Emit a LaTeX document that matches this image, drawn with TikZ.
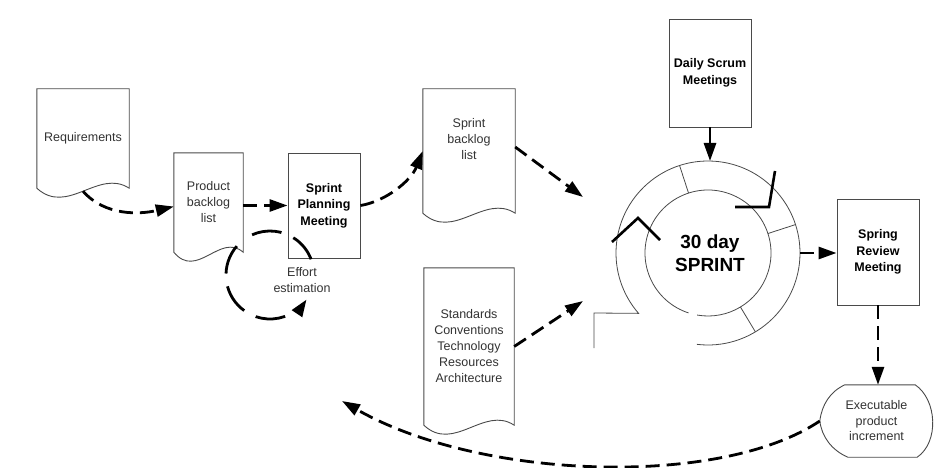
\documentclass[tikz,border=0pt]{standalone}
\usepackage{fontspec}
\setmainfont{Liberation Sans}
\usetikzlibrary{arrows.meta,calc}

\definecolor{edgegray}{HTML}{4A4A4A}
\definecolor{txtgray}{HTML}{333333}
\definecolor{ringgray}{HTML}{4A4A4A}

\tikzset{
  every node/.style={inner sep=0pt, align=center, text=txtgray,
    font=\fontsize{12.5}{16}\selectfont},
  docshape/.style={draw=none},
  docline/.style={draw=edgegray, line width=0.9pt, line join=miter},
  procbox/.style={draw=edgegray, line width=0.9pt},
  boldtext/.style={text=black, font=\bfseries\fontsize{12.5}{16.5}\selectfont},
  wavy/.style={to path={.. controls ($(\tikztostart)!1/3!(\tikztotarget)+(0,28)$)
      and ($(\tikztostart)!2/3!(\tikztotarget)+(0,-20)$) .. (\tikztotarget)}},
  flow/.style={line width=2.8pt, dash pattern=on 14pt off 7pt,
    -{Triangle[length=18pt,width=12pt]}},
  solidflow/.style={line width=2.8pt, -{Triangle[length=18pt,width=12pt]}},
  loopflow/.style={line width=2.8pt, dash pattern=on 30pt off 13pt},
  ringline/.style={draw=ringgray, line width=0.8pt},
  heavy/.style={line width=2.6pt, line join=miter, line cap=butt},
}

\begin{document}
\begin{tikzpicture}[x=1pt, y=-1pt]
\useasboundingbox (0,0) rectangle (934,468);
\fill[white] (0,0) rectangle (934,468);

% ---------- documents with a wavy bottom ----------
\node[docshape, minimum width=92pt, minimum height=99pt] (req) at (83,138.5) {Requirements};
\draw[docline] (req.south west) to[wavy] (req.south east) |- (req.north west) -- cycle;

\node[docshape, minimum width=69pt, minimum height=99pt] (pbl) at (208.5,202.5) {Product\\backlog\\list};
\draw[docline] (pbl.south west) to[wavy] (pbl.south east) |- (pbl.north west) -- cycle;

\node[docshape, minimum width=92pt, minimum height=124pt] (sbl) at (469,151) {};
\node (sbltxt) at (469,139) {Sprint\\backlog\\list};
\draw[docline] (sbl.south west) to[wavy] (sbl.south east) |- (sbl.north west) -- cycle;

\node[docshape, minimum width=90pt, minimum height=157pt] (std) at (469,346.5)
  {Standards\\Conventions\\Technology\\Resources\\Architecture};
\draw[docline] (std.south west) to[wavy] (std.south east) |- (std.north west) -- cycle;

% ---------- process boxes ----------
\node[procbox, boldtext, minimum width=72pt, minimum height=105pt] (spm) at (324,205.5)
  {Sprint\\Planning\\Meeting};
\node[procbox, boldtext, minimum width=82pt, minimum height=108pt] (dsm) at (710,73)
  {Daily Scrum\\Meetings};
\node[procbox, boldtext, minimum width=82pt, minimum height=106pt] (srm) at (878,252)
  {Spring\\Review\\Meeting};

% ---------- executable increment (display shape) ----------
\node[minimum width=113pt, minimum height=72pt,
      font=\fontsize{12.5}{15.5}\selectfont] (epi) at (876.5,421)
  {Executable\\product\\increment};
\draw[docline]
  ([xshift=25pt]epi.north west) -- ([xshift=-18pt]epi.north east)
  .. controls +(22,15) and +(22,-15) .. ([xshift=-16pt]epi.south east)
  -- ([xshift=28pt]epi.south west)
  .. controls +(-16,-7) and +(2,16) .. (epi.west)
  .. controls +(2,-16) and +(-15,7) .. ([xshift=25pt]epi.north west);

% ---------- sprint ring ----------
\coordinate (C) at (708,253);
\coordinate (ringtop) at ($(C)+(270:92)$);
\coordinate (ringright) at ($(C)+(0:92)$);
\draw[ringline] (594,348) -- (594,313) -- ($(C)+(139:92)$) arc[start angle=139, end angle=457, radius=92];
\draw[ringline] ($(C)+(108:63)$) arc[start angle=108, end angle=460, radius=63];
\foreach \a in {252,342,59}
  \draw[ringline] ($(C)+(\a:63)$) -- ($(C)+(\a:92)$);
\node[text=black, font=\bfseries\fontsize{19}{23}\selectfont] (sprint) at (710,253) {30 day\\SPRINT};
\draw[heavy] (612,242) -- (638,218) -- (660,240);
\draw[heavy] (735,207) -- (769,207) -- (775,171);

% ---------- effort estimation loop ----------
\coordinate (E) at (270,275);
\node (eff) at (302,280) {Effort\\estimation};
\draw[loopflow] ($(E)+(246:44)$) arc[start angle=246, end angle=339, radius=44];
\draw[loopflow, -{Triangle[length=17pt,width=12pt]}]
  ($(E)+(221:44)$) arc[start angle=221, end angle=34, radius=44];

% ---------- connectors ----------
\coordinate (in1) at (583,197);
\coordinate (in2) at (583,301);
\coordinate (back) at (342,401);

\draw[flow] ([yshift=-3pt]req.south) .. controls +(22,25) and +(-34,8) .. ([yshift=-4pt]pbl.west);
\draw[flow] (spm.west -| pbl.east) -- (spm.west);
\draw[flow] (spm.east) .. controls +(25,-4) and +(-12,30) .. (sbl.west);
\draw[flow] ([yshift=4pt]sbl.east) -- (in1);
\draw[flow] (std.east) -- (in2);
\draw[solidflow] (dsm.south) -- (dsm.south |- ringtop);
\draw[flow] (ringright) -- (ringright -| srm.west);
\draw[flow] (srm.south) -- (srm.south |- epi.north);
\draw[flow] (epi.west) .. controls (720,488) and (480,480) .. (back);
\end{tikzpicture}
\end{document}
